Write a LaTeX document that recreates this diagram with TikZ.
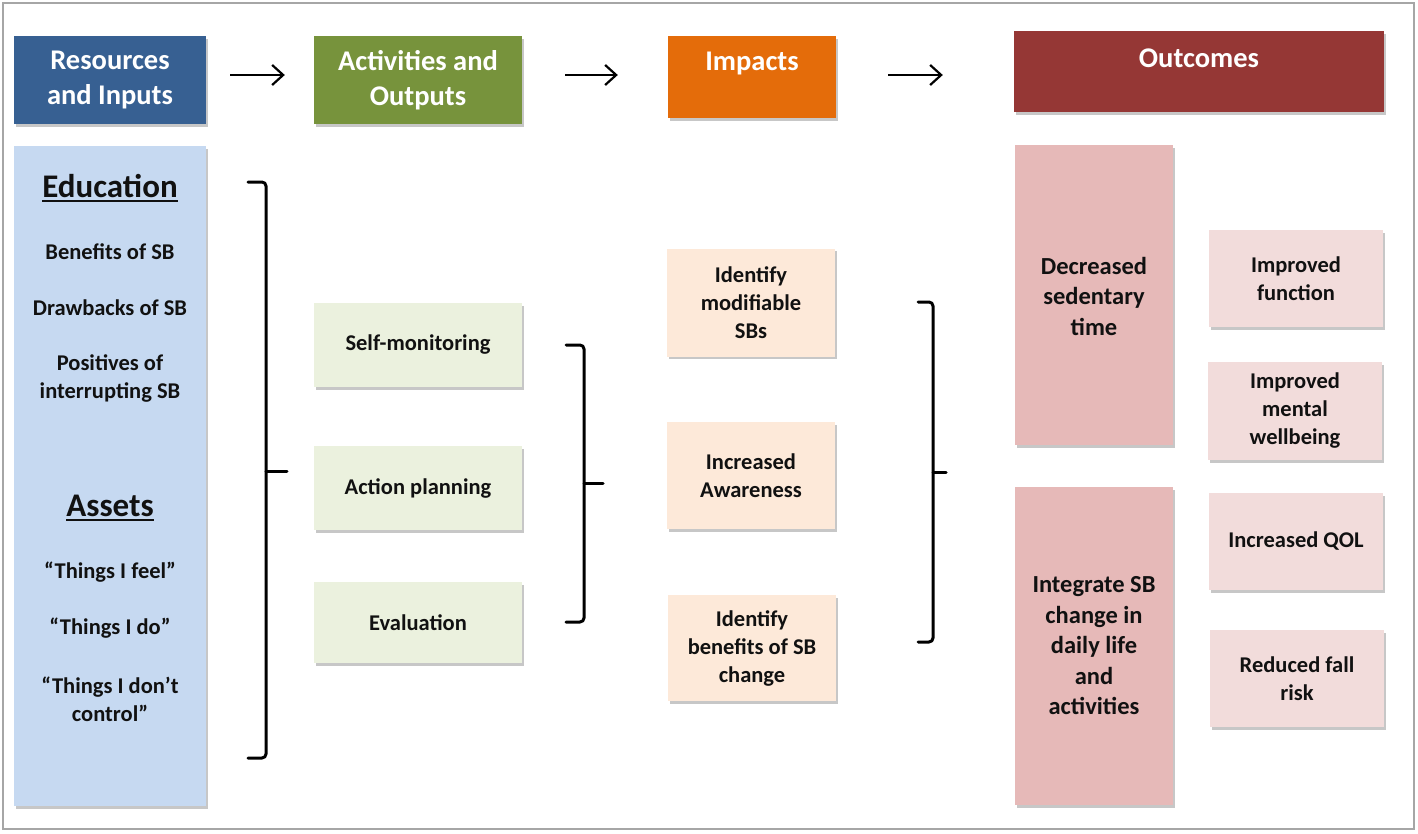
\documentclass[tikz,border=0pt]{standalone}
\usepackage{fontspec}
\setmainfont{Carlito}
\usetikzlibrary{shadows,arrows.meta}
\definecolor{cBlue}{HTML}{376092}
\definecolor{cGreen}{HTML}{77933C}
\definecolor{cOrange}{HTML}{E46C0A}
\definecolor{cRed}{HTML}{953735}
\definecolor{cLBlue}{HTML}{C6D9F1}
\definecolor{cLGreen}{HTML}{EBF1DE}
\definecolor{cPeach}{HTML}{FDE9D9}
\definecolor{cPink}{HTML}{E6B9B8}
\definecolor{cLPink}{HTML}{F2DCDB}
\definecolor{cTxt}{HTML}{111111}
\definecolor{cFrame}{HTML}{A6A6A6}
\newcommand\bodyfont{\bfseries\fontsize{22.5}{28}\selectfont}
\newcommand\bigfont{\bfseries\fontsize{24.5}{30.5}\selectfont}
\newcommand\hdrfont{\bfseries\fontsize{28.5}{35}\selectfont}
\newcommand\secfont{\bfseries\fontsize{33}{40}\selectfont}
\newcommand\myul[1]{\setbox0\hbox{#1}\rlap{\rule[-5pt]{\wd0}{2.4pt}}\box0}
\begin{document}
\begin{tikzpicture}[x=1pt,y=-1pt,
  box/.style={draw=none, inner sep=0pt, align=center, font=\bodyfont, text=cTxt,
    drop shadow={shadow xshift=1.5pt, shadow yshift=-2.5pt, fill=black, opacity=0.22}},
  hdr/.style={box, text=white, font=\hdrfont},
  txtnode/.style={inner sep=0pt, align=center, font=\bodyfont, text=cTxt},
  brk/.style={line width=3pt, rounded corners=4pt, line cap=round, line join=round},
  arr/.style={line width=2.2pt, -{Straight Barb[length=11pt, width=20pt, line width=2.2pt]}}]
\useasboundingbox (0,0) rectangle (1418,833);
\fill[white] (0,0) rectangle (1418,833);
\draw[cFrame, line width=1.5pt] (3,3) rectangle (1414,829);

% headers
\node[hdr, fill=cBlue, minimum width=192, minimum height=88] (res) at (110,80) {Resources\\and Inputs};
\node[hdr, fill=cGreen, minimum width=208, minimum height=88] (act) at (418,80) {Activities and\\Outputs};
\node[hdr, fill=cOrange, minimum width=168, minimum height=82] (imp) at (752,77) {};
\node[txtnode, text=white, font=\hdrfont] (impt) at (752,63) {Impacts};
\node[hdr, fill=cRed, minimum width=370, minimum height=81] (out) at (1199,71.5) {};
\node[txtnode, text=white, font=\hdrfont] (outt) at (1199,58) {Outcomes};

\draw[arr] ([xshift=24pt,yshift=5pt]res.east) -- ([xshift=-29pt,yshift=5pt]act.west);
\draw[arr] ([xshift=43pt,yshift=5pt]act.east) -- ([xshift=-50pt,yshift=2pt]imp.west);
\draw[arr] ([xshift=52pt,yshift=2pt]imp.east) -- ([xshift=-71pt,yshift=-3.5pt]out.west);

% resources column
\node[box, fill=cLBlue, minimum width=192, minimum height=660] (resbox) at (110,476) {};
\node[txtnode, font=\secfont] (edu) at (110,188) {\myul{Education}};
\node[txtnode] (r1) at (110,252) {Benefits of SB};
\node[txtnode] (r2) at (110,308) {Drawbacks of SB};
\node[txtnode] (r3) at (110,378) {Positives of\\interrupting SB};
\node[txtnode, font=\secfont] (ast) at (110,508) {\myul{Assets}};
\node[txtnode] (r4) at (110,572) {“Things I feel”};
\node[txtnode] (r5) at (110,628) {“Things I do”};
\node[txtnode] (r6) at (110,699) {“Things I don’t\\control”};

% activities
\node[box, fill=cLGreen, minimum width=208, minimum height=84] (sm) at (418,345) {Self-monitoring};
\node[box, fill=cLGreen, minimum width=208, minimum height=84] (ap) at (418,488) {Action planning};
\node[box, fill=cLGreen, minimum width=208, minimum height=81] (ev) at (418,622.5) {Evaluation};

% impacts
\node[box, fill=cPeach, minimum width=168, minimum height=108] (im1) at (751,302.5) {Identify\\modifiable\\SBs};
\node[box, fill=cPeach, minimum width=168, minimum height=107] (im2) at (751,475.5) {Increased\\Awareness};
\node[box, fill=cPeach, minimum width=168, minimum height=106] (im3) at (752,648) {Identify\\benefits of SB\\change};

% outcomes
\node[box, fill=cPink, minimum width=158, minimum height=300, font=\bigfont] (oc1) at (1094,295) {};
\node[txtnode, font=\bigfont] (oc1t) at (1094,296) {Decreased\\sedentary\\time};
\node[box, fill=cPink, minimum width=158, minimum height=318, font=\bigfont] (oc2) at (1094,646) {Integrate SB\\change in\\daily life\\and\\activities};
\node[box, fill=cLPink, minimum width=174, minimum height=97] (o1) at (1296,278.5) {Improved\\function};
\node[box, fill=cLPink, minimum width=174, minimum height=98] (o2) at (1295,411) {Improved\\mental\\wellbeing};
\node[box, fill=cLPink, minimum width=174, minimum height=97] (o3) at (1296,541.5) {Increased QOL};
\node[box, fill=cLPink, minimum width=174, minimum height=97] (o4) at (1297,678.5) {Reduced fall\\risk};

% brackets
\draw[brk] (248,182) -- (266,182) -- (266,758) -- (248,758);
\draw[brk] (266,471) -- (287,471);
\draw[brk] (566,345) -- (584,345) -- (584,622) -- (566,622);
\draw[brk] (584,483) -- (603,483);
\draw[brk] (918,302) -- (933,302) -- (933,642) -- (918,642);
\draw[brk] (933,472) -- (946,472);
\end{tikzpicture}
\end{document}
